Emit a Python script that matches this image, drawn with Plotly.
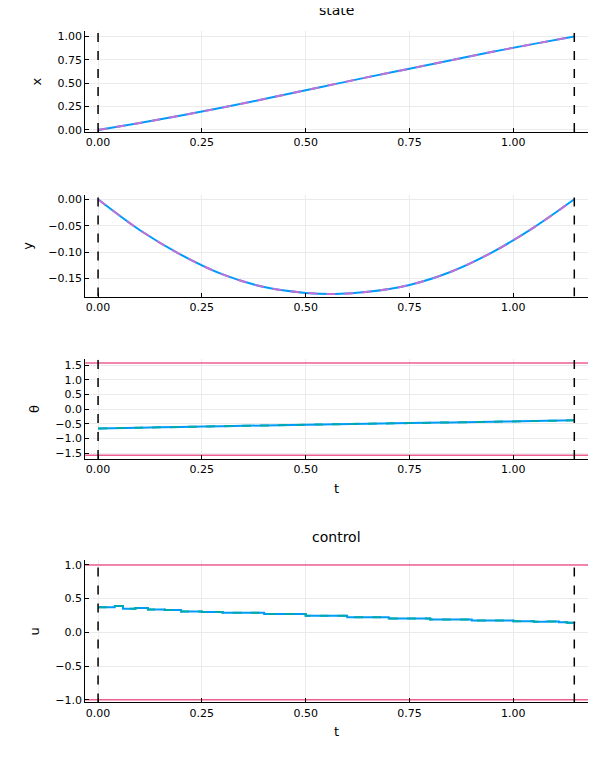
import plotly.graph_objects as go

T_END = 1.147
t_state = [0.0, 0.1, 0.2, 0.3, 0.4, 0.5, 0.57, 0.65, 0.75, 0.85, 0.95, 1.05, 1.147]
x_vals = [0.0, 0.075, 0.155, 0.24, 0.33, 0.425, 0.49, 0.565, 0.655, 0.745, 0.835, 0.92, 1.0]
y_vals = [0.0, -0.058, -0.105, -0.142, -0.166, -0.177, -0.179, -0.175, -0.162, -0.137, -0.1, -0.053, 0.0]
th_vals = [-0.66, -0.635, -0.61, -0.585, -0.56, -0.535, -0.52, -0.5, -0.478, -0.455, -0.432, -0.408, -0.385]
t_ctrl = [0.0, 0.04, 0.06, 0.09, 0.12, 0.16, 0.2, 0.25, 0.3, 0.4, 0.5, 0.6, 0.7, 0.8, 0.9, 1.0, 1.05, 1.08, 1.11, 1.13, 1.147]
u_vals = [0.37, 0.39, 0.35, 0.36, 0.34, 0.33, 0.31, 0.30, 0.29, 0.27, 0.245, 0.225, 0.205, 0.19, 0.175, 0.165, 0.155, 0.16, 0.15, 0.14, 0.135]
theta_bounds = [-1.5708, 1.5708]
u_bounds = [-1.0, 1.0]

BLUE, PURPLE, TEAL, PINK = "#009AFA", "#C271D2", "#00A9AD", "#ED5E93"
fig = go.Figure()

def add(x, y, ax, color, dash="solid", shape="linear", w=2):
    fig.add_trace(go.Scatter(x=x, y=y, mode="lines", xaxis="x" + ax, yaxis="y" + ax,
                             line=dict(color=color, dash=dash, width=w, shape=shape), showlegend=False))

for ax, vals, c2 in [("", x_vals, PURPLE), ("2", y_vals, PURPLE), ("3", th_vals, TEAL)]:
    add(t_state, vals, ax, BLUE, shape="spline")
    add(t_state, vals, ax, c2, "dash", shape="spline")
add(t_ctrl, u_vals, "4", BLUE, shape="hv")
add(t_ctrl, u_vals, "4", TEAL, "dash", shape="hv")
for b in theta_bounds:
    add([-0.05, 1.2], [b, b], "3", PINK, w=1.5)
for b in u_bounds:
    add([-0.05, 1.2], [b, b], "4", PINK, w=1.5)

dy = 8 / 780
dx = 8 / 600
yranges = {"": ([-0.021, 1.053], [0.832, 0.962], [0, 0.25, 0.5, 0.75, 1.0], ["0.00", "0.25", "0.50", "0.75", "1.00"], "x"),
           "2": ([-0.184, 0.0075], [0.619, 0.75], [0, -0.05, -0.1, -0.15], ["0.00", "−0.05", "−0.10", "−0.15"], "y"),
           "3": ([-1.70, 1.70], [0.409, 0.538], [-1.5, -1, -0.5, 0, 0.5, 1, 1.5], ["−1.5", "−1.0", "−0.5", "0.0", "0.5", "1.0", "1.5"], "θ"),
           "4": ([-1.04, 1.07], [0.094, 0.278], [-1, -0.5, 0, 0.5, 1], ["−1.0", "−0.5", "0.0", "0.5", "1.0"], "u")}
ax_style = dict(showline=True, linecolor="black", linewidth=1, showgrid=True, gridcolor="#EBEBEB",
                ticks="inside", ticklen=4, tickcolor="black", zeroline=False, tickfont=dict(size=11))
lay = {}
for ax, (rng, dom, tv, tt, lab) in yranges.items():
    lay["xaxis" + ax] = dict(ax_style, domain=[0.142 - dx, 0.98 - dx], range=[-0.031, 1.18], anchor="y" + ax,
                             tickvals=[0, 0.25, 0.5, 0.75, 1.0], ticktext=["0.00", "0.25", "0.50", "0.75", "1.00"],
                             title=dict(text="t", font=dict(size=13), standoff=8) if ax in ("3", "4") else None)
    lay["yaxis" + ax] = dict(ax_style, domain=[dom[0] + dy, dom[1] + dy], range=rng, anchor="x" + ax, tickvals=tv, ticktext=tt,
                             title=dict(text=lab, font=dict(size=13), standoff=12))
    for tv_ in [0.0, T_END]:
        fig.add_shape(type="line", x0=tv_, x1=tv_, y0=rng[0], y1=rng[1], xref="x" + ax, yref="y" + ax,
                      line=dict(color="black", dash="dash", width=1.5))
fig.update_layout(**lay, width=600, height=780, margin=dict(l=0, r=0, t=0, b=0),
                  plot_bgcolor="white", paper_bgcolor="white",
                  font=dict(family="DejaVu Sans", color="black"),
                  annotations=[dict(text="state", x=0.56 - dx, y=1 - 8 / 780 + dy, xref="paper", yref="paper", showarrow=False, font=dict(size=14), yanchor="middle"),
                               dict(text="control", x=0.56 - dx, y=1 - 540 / 780 + dy, xref="paper", yref="paper", showarrow=False, font=dict(size=14), yanchor="middle")])
fig.write_html("out.html")
